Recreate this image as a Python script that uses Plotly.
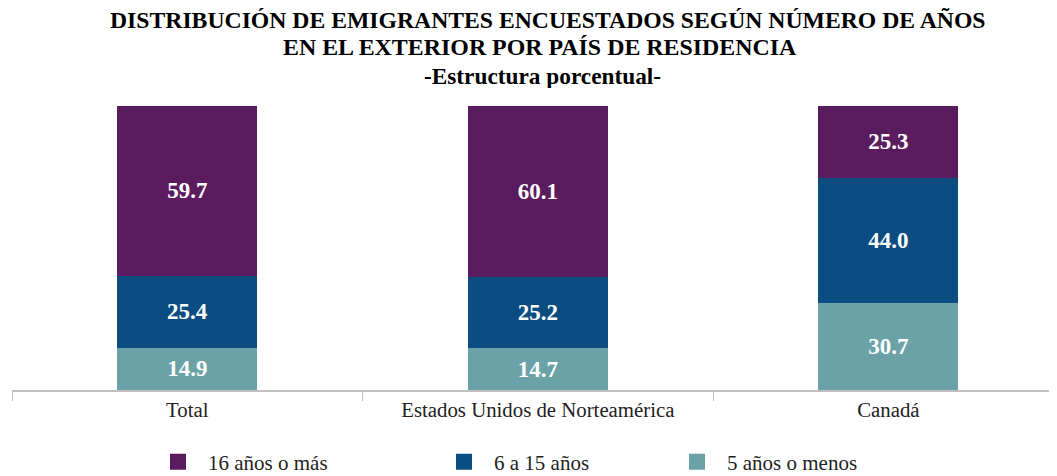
import plotly.graph_objects as go

categories = ["Total", "Estados Unidos de Norteamérica", "Canadá"]
series_names = ["5 años o menos", "6 a 15 años", "16 años o más"]
v_5_menos = [14.9, 14.7, 30.7]
v_6_15 = [25.4, 25.2, 44.0]
v_16_mas = [59.7, 60.1, 25.3]
colors = ["#6aa2a7", "#0b4d80", "#5a1c5e"]

title_lines = [
    "DISTRIBUCIÓN DE EMIGRANTES ENCUESTADOS SEGÚN NÚMERO DE AÑOS",
    "EN EL EXTERIOR POR PAÍS DE RESIDENCIA",
    "-Estructura porcentual-",
]

values = [v_5_menos, v_6_15, v_16_mas]
serif = "Liberation Serif, Times New Roman, serif"

# the page body adds an 8px offset; the figure is sized to fit the window
W, H = 1049, 468
L, T, AXIS_Y = 4, 98, 382
PLOT_W, PLOT_H = W - L, AXIS_Y - T

fig = go.Figure()
for name, vals, col in zip(series_names, values, colors):
    fig.add_trace(go.Bar(
        x=categories, y=vals, name=name, marker=dict(color=col, line=dict(width=0)),
        width=0.4, text=[f"{v:.1f}" for v in vals], textposition="inside",
        insidetextanchor="middle",
        textfont=dict(family=serif, size=23, color="white", weight="bold"),
        showlegend=False, hoverinfo="skip",
    ))

# legend entries (order: 16 años o más, 6 a 15 años, 5 años o menos)
legend_ids = ["legend", "legend2", "legend3"]
legend_x = [140, 426, 659]
for i, idx in enumerate([2, 1, 0]):
    fig.add_trace(go.Scatter(
        x=[None], y=[None], mode="markers", name=series_names[idx],
        marker=dict(symbol="square", size=21, color=colors[idx]),
        legend=legend_ids[i], showlegend=True,
    ))

fig.update_layout(
    barmode="stack",
    width=W, height=H,
    margin=dict(l=L, r=0, t=T, b=H - AXIS_Y, autoexpand=False),
    paper_bgcolor="white", plot_bgcolor="white",
    xaxis=dict(
        range=[-0.5, 2.481], showline=True, linecolor="#bfbfbf", linewidth=1.5,
        ticks="outside", tickson="boundaries", ticklen=9, tickcolor="#bfbfbf",
        tickfont=dict(family=serif, size=20.8, color="#222"),
        showgrid=False, zeroline=False, fixedrange=True,
    ),
    yaxis=dict(range=[0, 100], visible=False, showgrid=False, zeroline=False),
    font=dict(family=serif),
)

title_y = [12, 39, 68]
title_x = [540, 532, 534]
title_sizes = [23.7, 23.9, 23.3]
for txt, ty, tx, ts in zip(title_lines, title_y, title_x, title_sizes):
    fig.add_annotation(
        text=f"<b>{txt}</b>", xref="paper", yref="paper",
        x=(tx - L) / PLOT_W, y=(AXIS_Y - ty) / PLOT_H, xanchor="center", yanchor="middle",
        height=24, valign="middle",
        showarrow=False, font=dict(family=serif, size=ts, color="black"),
    )

for lid, lx in zip(legend_ids, legend_x):
    fig.update_layout({lid: dict(
        xref="container", yref="container",
        x=lx / W, xanchor="left", y=14 / H, yanchor="middle", orientation="h",
        font=dict(family=serif, size=21, color="#222"), bgcolor="rgba(0,0,0,0)",
        itemsizing="trace", itemwidth=50,
    )})

fig.write_html("out.html")
